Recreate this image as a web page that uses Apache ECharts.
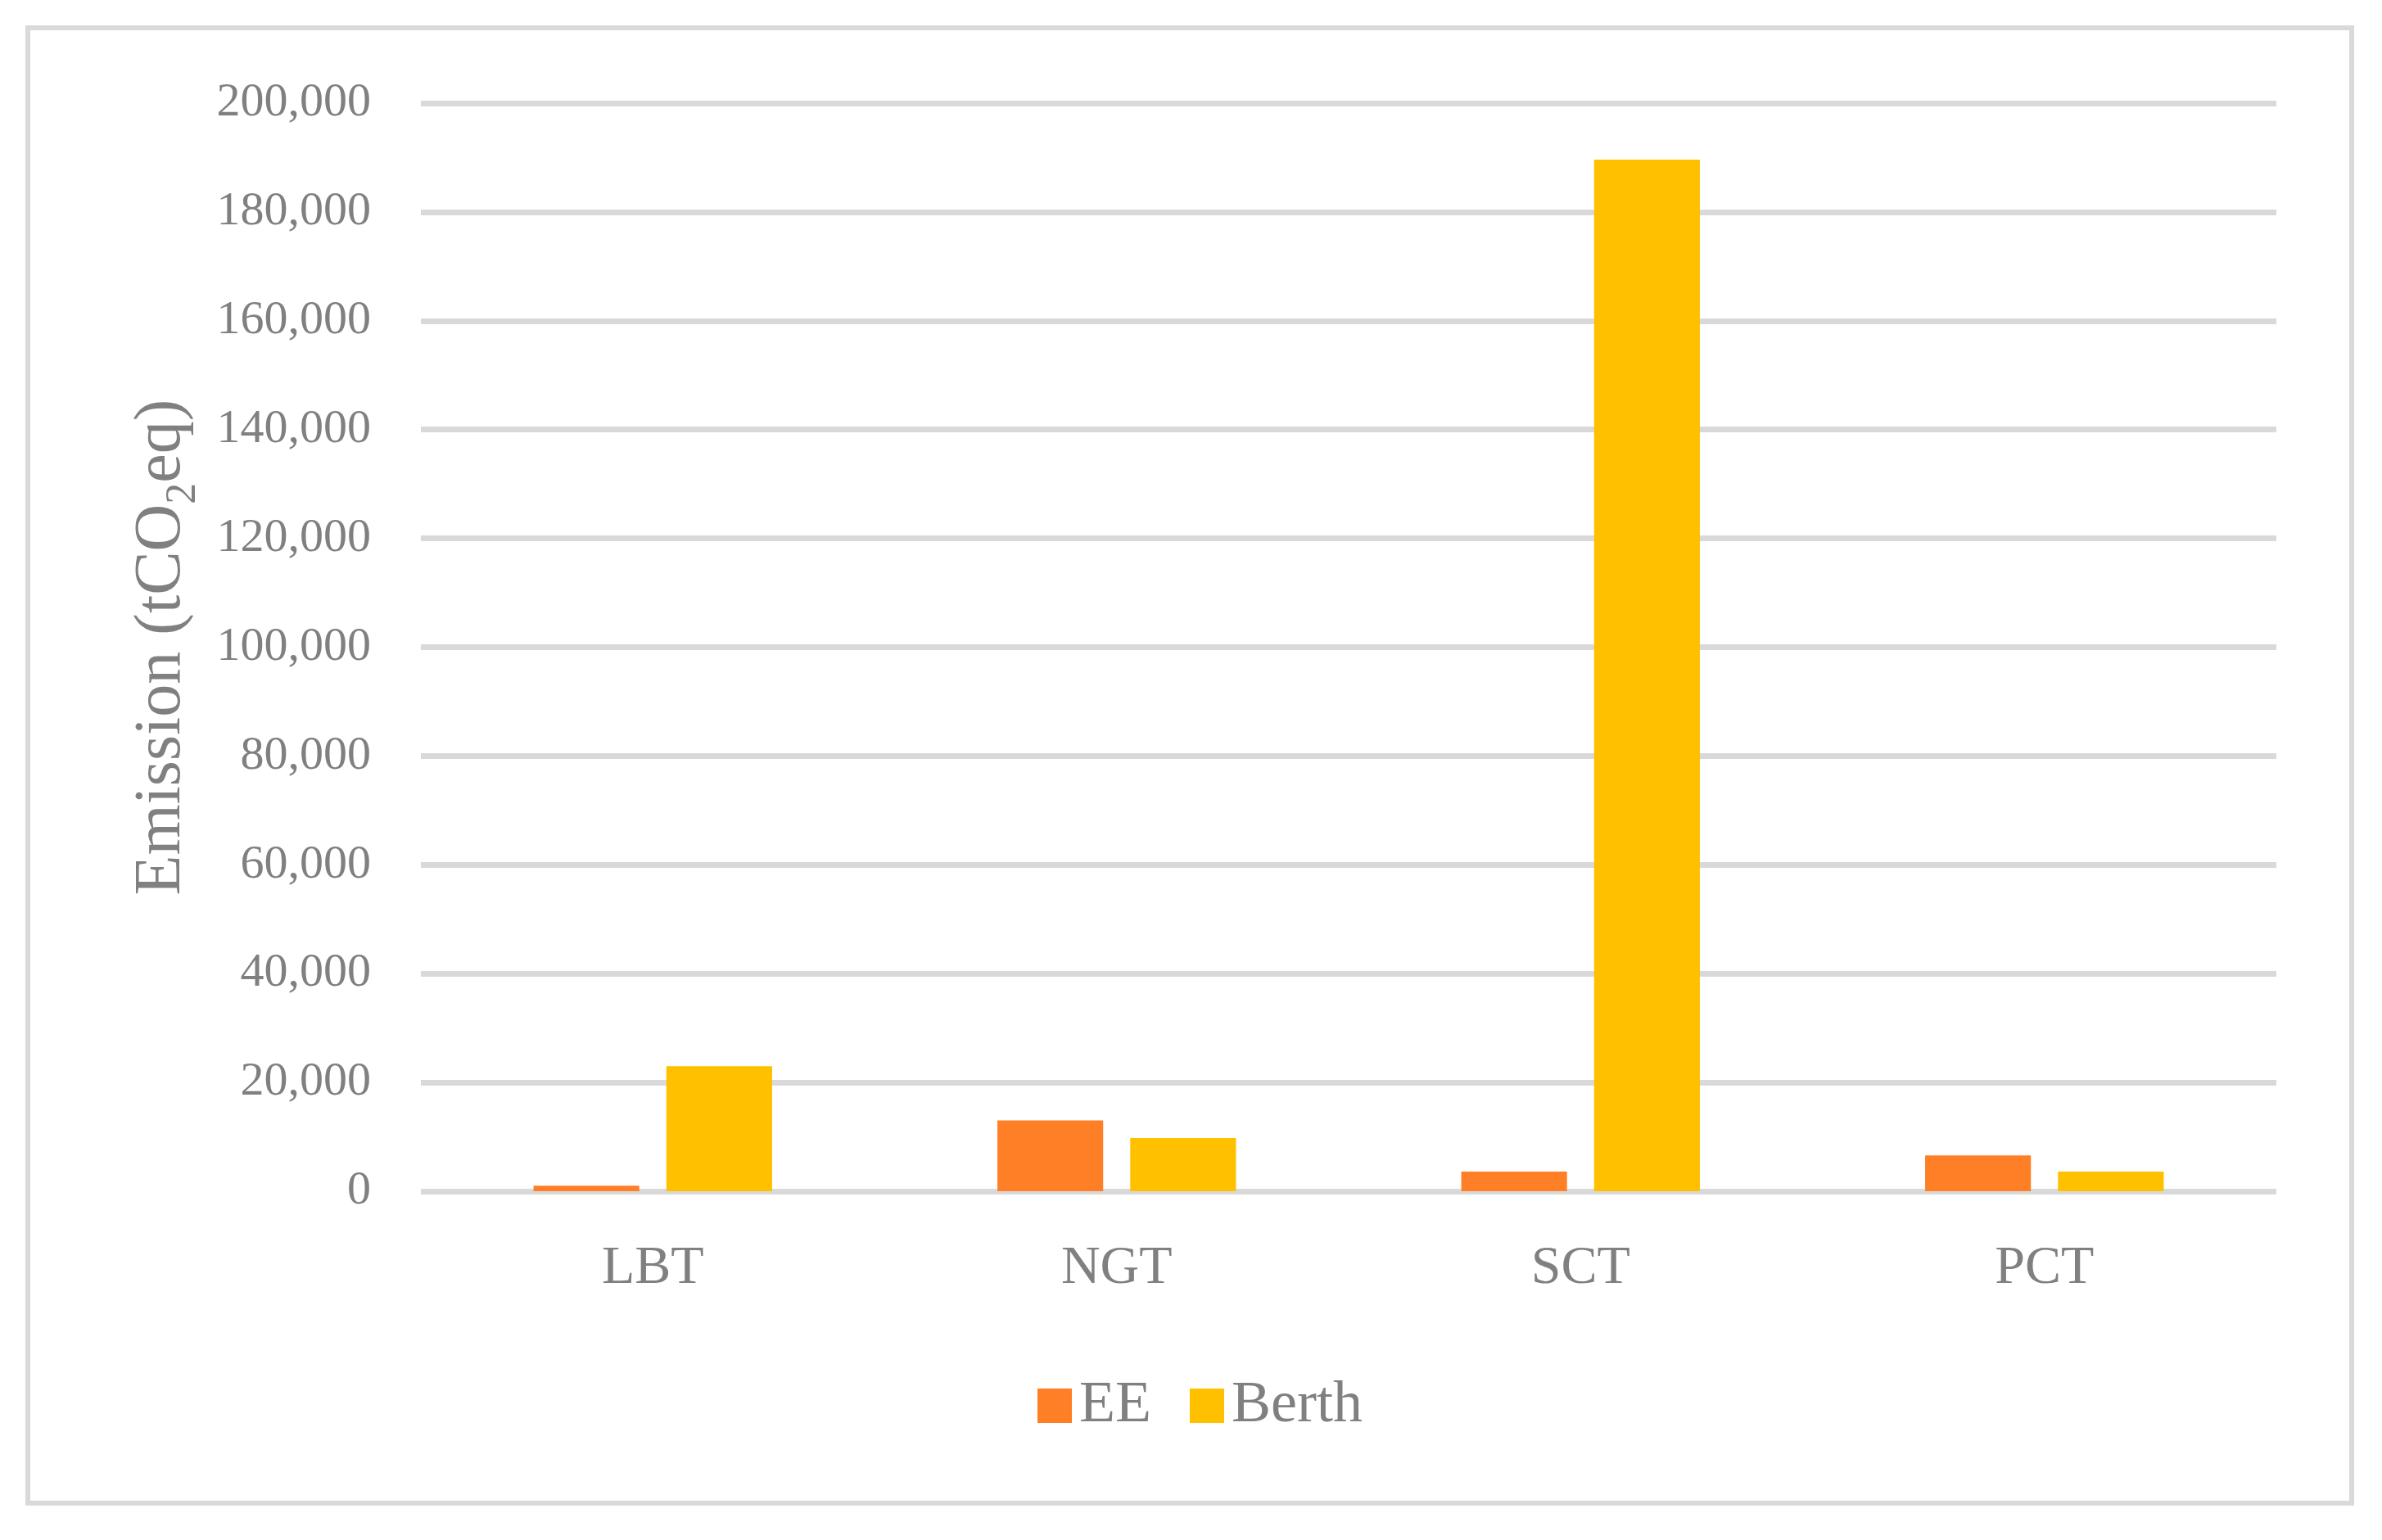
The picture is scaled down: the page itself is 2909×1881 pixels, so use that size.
<!DOCTYPE html>
<html>
<head>
<meta charset="utf-8">
<script src="https://cdn.jsdelivr.net/npm/echarts@6/dist/echarts.min.js"></script>
<style>
   html, body { margin: 0 ; padding: 0 ; background: #ffffff ; }
   #main { width: 2909px ; height: 1881px ; }
</style>
</head>
<body>
<div id="main"></div>
<script>
var terminals = [ 'LBT', 'NGT', 'SCT', 'PCT' ] ;
var eeValues = [ 1000, 13000, 3600, 6600 ] ;
var berthValues = [ 23000, 9800, 189600, 3600 ] ;
var seriesNames = [ 'EE', 'Berth' ] ;
var yTicks = { min: 0, max: 200000, interval: 20000 } ;

(function(){
   var grey = '#808080' ;
   var lineGrey = '#d9d9d9' ;
   var font = '"Liberation Serif", "DejaVu Serif", serif' ;
   //千位分隔
   function thousands( v )
   {
      return String( v ).replace( /\B(?=(\d{3})+(?!\d))/g, ',' ) ;
   }
   var chart = echarts.init( document.getElementById( 'main' ) ) ;
   var option = {
      backgroundColor: '#ffffff',
      animation: false,
      textStyle: { fontFamily: font, color: grey },
      graphic: [ {
         type: 'rect',
         shape: { x: 34, y: 34, width: 2838, height: 1802 },
         style: { fill: 'none', stroke: lineGrey, lineWidth: 6 }
      } ],
      grid: { left: 514, right: 129, top: 126, bottom: 426, containLabel: false },
      legend: {
         left: 1262, top: 1676,
         itemWidth: 42, itemHeight: 42, itemGap: 47,
         icon: 'rect',
         data: seriesNames,
         textStyle: { fontFamily: font, fontSize: 72, color: grey, padding: [ 0, 0, 0, 4 ], lineHeight: 72 }
      },
      xAxis: {
         type: 'category',
         data: terminals,
         axisTick: { show: false },
         axisLine: { show: false },
         axisLabel: { fontFamily: font, fontSize: 66, color: grey, margin: 62 }
      },
      yAxis: {
         type: 'value',
         min: yTicks.min, max: yTicks.max, interval: yTicks.interval,
         name: 'Emission (tCO{sub|2}eq)',
         nameLocation: 'middle',
         nameGap: 276,
         nameTextStyle: {
            fontFamily: font, fontSize: 80, color: grey,
            rich: { sub: { fontFamily: font, fontSize: 52, color: grey, verticalAlign: 'bottom', padding: [ 0, 0, -12, 0 ] } }
         },
         axisLine: { show: false },
         axisTick: { show: false },
         axisLabel: { fontFamily: font, fontSize: 58, color: grey, margin: 61, formatter: thousands },
         splitLine: { lineStyle: { color: lineGrey, width: 7 } }
      },
      series: [ {
         name: seriesNames[0], type: 'bar', data: eeValues,
         barWidth: '22.8%', barGap: '25.6%',
         itemStyle: { color: '#ff7f27' }
      }, {
         name: seriesNames[1], type: 'bar', data: berthValues,
         barWidth: '22.8%', barGap: '25.6%',
         itemStyle: { color: '#ffc000' }
      } ]
   } ;
   chart.setOption( option ) ;
}());
</script>
</body>
</html>
